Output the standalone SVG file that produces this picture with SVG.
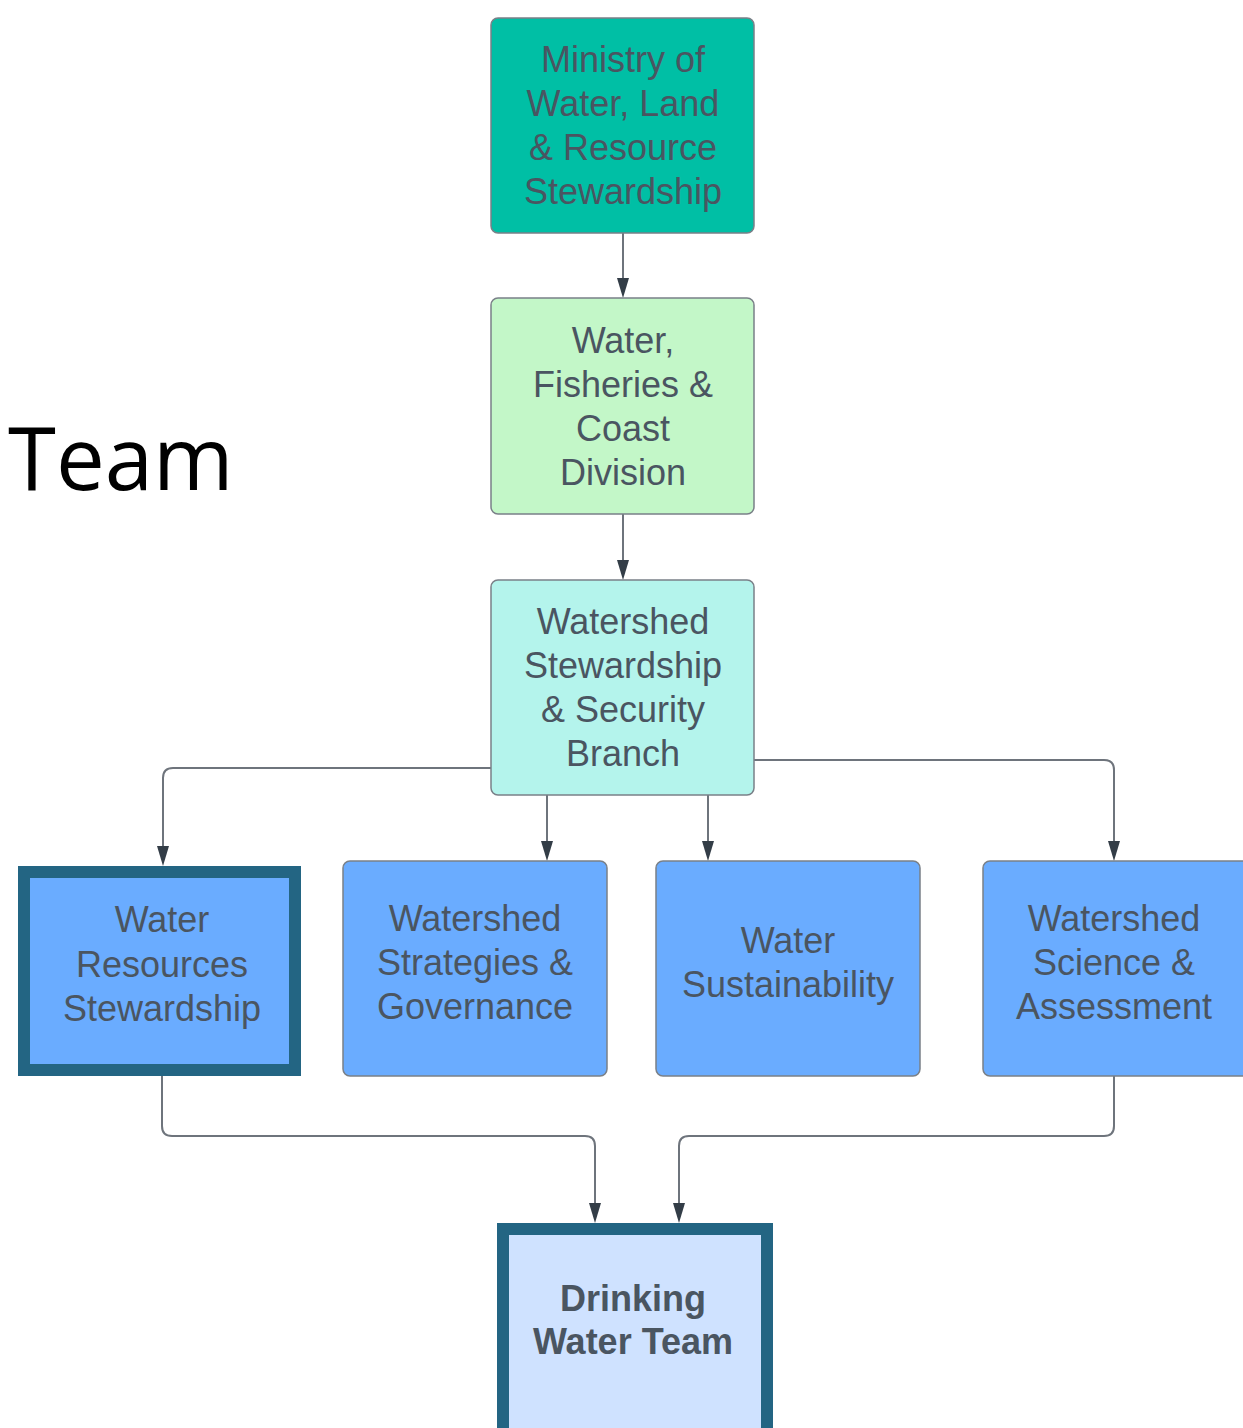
<svg xmlns="http://www.w3.org/2000/svg" width="1243" height="1428" viewBox="0 0 1243 1428">
<defs>
<style>
.lbl{font-family:"Liberation Sans",Arial,sans-serif;font-size:36px;fill:#4a5561;text-anchor:middle}
.bold{font-weight:bold}
.box{stroke:#7a8088;stroke-width:1.5}
.thick{stroke:#236583;stroke-width:12}
.con{fill:none;stroke:#6e747c;stroke-width:2}
.ah{fill:#333d47}
</style>
</defs>
<rect width="1243" height="1428" fill="#ffffff"/>
<text x="8" y="490" font-family="'Open Sans',sans-serif" font-size="87" fill="#000000">Team</text>
<g id="connectors">
<path class="con" d="M623,233 L623,278" />
<path class="ah" d="M617,278 L629,278 L623,298 Z"/>
<path class="con" d="M623,514 L623,560" />
<path class="ah" d="M617,560 L629,560 L623,580 Z"/>
<path class="con" d="M491,768 L173,768 Q163,768 163,778 L163,846" />
<path class="ah" d="M157,846 L169,846 L163,866 Z"/>
<path class="con" d="M547,795 L547,841" />
<path class="ah" d="M541,841 L553,841 L547,861 Z"/>
<path class="con" d="M708,795 L708,841" />
<path class="ah" d="M702,841 L714,841 L708,861 Z"/>
<path class="con" d="M754,760 L1104,760 Q1114,760 1114,770 L1114,841" />
<path class="ah" d="M1108,841 L1120,841 L1114,861 Z"/>
<path class="con" d="M162,1076 L162,1126 Q162,1136 172,1136 L585,1136 Q595,1136 595,1146 L595,1203" />
<path class="ah" d="M589,1203 L601,1203 L595,1223 Z"/>
<path class="con" d="M1114,1076 L1114,1126 Q1114,1136 1104,1136 L689,1136 Q679,1136 679,1146 L679,1203" />
<path class="ah" d="M673,1203 L685,1203 L679,1223 Z"/>
</g>
<g id="ministry">
<rect class="box" x="491" y="18" width="263" height="215" rx="7" fill="#00bfa5"/>
<text class="lbl"><tspan x="623" y="72">Ministry of</tspan><tspan x="623" y="116">Water, Land</tspan><tspan x="623" y="160">&amp; Resource</tspan><tspan x="623" y="204">Stewardship</tspan></text>
</g>
<g id="division">
<rect class="box" x="491" y="298" width="263" height="216" rx="7" fill="#c3f7c8"/>
<text class="lbl"><tspan x="623" y="353">Water,</tspan><tspan x="623" y="397">Fisheries &amp;</tspan><tspan x="623" y="441">Coast</tspan><tspan x="623" y="485">Division</tspan></text>
</g>
<g id="branch">
<rect class="box" x="491" y="580" width="263" height="215" rx="7" fill="#b4f4ec"/>
<text class="lbl"><tspan x="623" y="634">Watershed</tspan><tspan x="623" y="678">Stewardship</tspan><tspan x="623" y="722">&amp; Security</tspan><tspan x="623" y="766">Branch</tspan></text>
</g>
<g id="wrs">
<rect class="thick" x="24" y="872" width="271" height="198" fill="#6aacff"/>
<text class="lbl"><tspan x="162" y="932">Water</tspan><tspan x="162" y="977">Resources</tspan><tspan x="162" y="1021">Stewardship</tspan></text>
</g>
<g id="wsg">
<rect class="box" x="343" y="861" width="264" height="215" rx="7" fill="#6aacff"/>
<text class="lbl"><tspan x="475" y="931">Watershed</tspan><tspan x="475" y="975">Strategies &amp;</tspan><tspan x="475" y="1019">Governance</tspan></text>
</g>
<g id="ws">
<rect class="box" x="656" y="861" width="264" height="215" rx="7" fill="#6aacff"/>
<text class="lbl"><tspan x="788" y="953">Water</tspan><tspan x="788" y="997">Sustainability</tspan></text>
</g>
<g id="wsa">
<rect class="box" x="983" y="861" width="270" height="215" rx="7" fill="#6aacff"/>
<text class="lbl"><tspan x="1114" y="931">Watershed</tspan><tspan x="1114" y="975">Science &amp;</tspan><tspan x="1114" y="1019">Assessment</tspan></text>
</g>
<g id="dwt">
<rect class="thick" x="503" y="1229" width="264" height="205" fill="#cfe2ff"/>
<text class="lbl bold"><tspan x="633" y="1311">Drinking</tspan><tspan x="633" y="1354">Water Team</tspan></text>
</g>
</svg>
